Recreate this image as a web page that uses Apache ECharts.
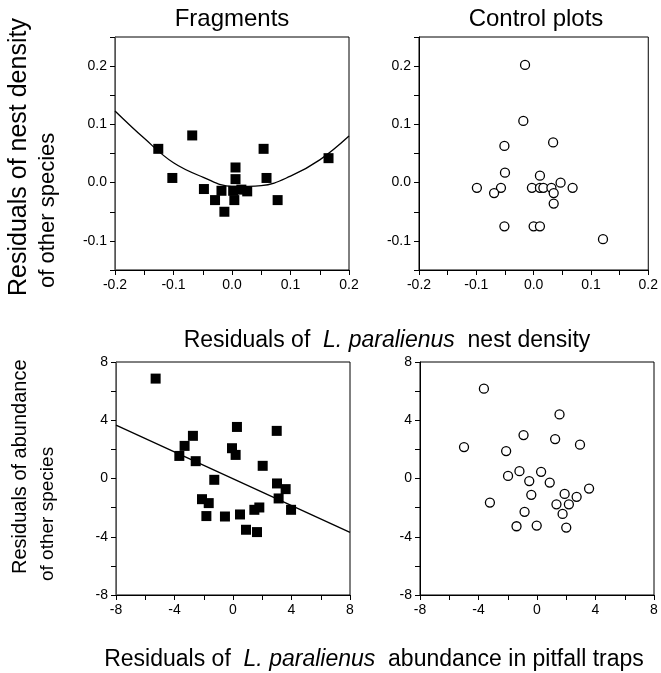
<!DOCTYPE html>
<html>
<head>
<meta charset="utf-8">
<script src="https://cdn.jsdelivr.net/npm/echarts@6/dist/echarts.min.js"></script>
<style>
  html, body { margin: 0; padding: 0; background: #fff; }
  #chart { width: 661px; height: 673px; }
</style>
</head>
<body>
<div id="chart"></div>
<script>
// nest density residuals, fragments (squares)
const fragNest = [
  [-0.126, 0.058], [-0.068, 0.081], [-0.102, 0.008], [-0.048, -0.011], [-0.029, -0.030],
  [-0.018, -0.014], [-0.013, -0.050], [0.002, -0.014], [0.004, -0.030], [0.006, 0.026],
  [0.006, 0.006], [0.016, -0.012], [0.026, -0.015], [0.054, 0.058], [0.059, 0.008],
  [0.078, -0.030], [0.165, 0.042]
]
// fitted curve
const fragNestFitX = [-0.2, -0.15, -0.1, -0.05, 0, 0.05, 0.1, 0.15, 0.2]
const fragNestFitY = [0.123, 0.076, 0.034, 0.0095, -0.0065, -0.005, 0.011, 0.039, 0.080]

// nest density residuals, control plots (circles)
const ctrlNest = [
  [-0.015, 0.202], [-0.018, 0.106], [-0.051, 0.063], [0.034, 0.069], [-0.050, 0.017],
  [0.011, 0.012], [-0.099, -0.009], [-0.057, -0.009], [-0.069, -0.018], [-0.003, -0.009],
  [0.011, -0.009], [0.017, -0.009], [0.031, -0.009], [0.035, -0.018], [0.047, 0.000],
  [0.068, -0.009], [0.035, -0.036], [-0.051, -0.075], [0.000, -0.075], [0.011, -0.075],
  [0.121, -0.097]
]

// abundance residuals, fragments (squares)
const fragAbund = [
  [-5.29, 6.86], [-3.67, 1.55], [-3.31, 2.24], [-2.74, 2.93], [-2.55, 1.19],
  [-1.28, -0.09], [-2.12, -1.42], [-1.66, -1.69], [-1.82, -2.58], [-0.55, -2.61],
  [-0.07, 2.08], [0.27, 3.54], [0.18, 1.62], [0.48, -2.47], [0.89, -3.52],
  [1.64, -3.68], [1.46, -2.15], [1.80, -1.99], [2.03, 0.87], [2.99, 3.27],
  [3.01, -0.34], [3.12, -1.37], [3.60, -0.73], [3.97, -2.15]
]
const fragAbundFitX = [-8, 8]
const fragAbundFitY = [3.66, -3.70]

// abundance residuals, control plots (circles)
const ctrlAbund = [
  [-3.63, 6.17], [1.54, 4.40], [-0.92, 2.98], [1.24, 2.71], [2.94, 2.32],
  [-4.99, 2.16], [-2.11, 1.88], [-1.20, 0.50], [0.28, 0.46], [-1.98, 0.18],
  [-0.53, -0.18], [0.87, -0.28], [3.56, -0.69], [1.89, -1.06], [-0.39, -1.12],
  [2.71, -1.26], [-3.22, -1.65], [1.33, -1.77], [2.18, -1.77], [-0.85, -2.29],
  [1.75, -2.43], [-1.40, -3.28], [-0.02, -3.23], [2.00, -3.37]
]

const FONT = 'Liberation Sans, Arial, sans-serif'

const chart = echarts.init(document.getElementById('chart'))

const zip = (xs, ys) => xs.map((x, i) => [x, ys[i]])

const smallLabel = v => {
  const k = Math.round(v * 20)
  return k % 2 === 0 ? (Math.round(v * 10) / 10).toFixed(1) : ''
}
const bigLabel = v => (Math.round(v) % 4 === 0 ? String(Math.round(v)) : '')

const axisBase = (gridIndex, min, max, interval, formatter, lineColor) => ({
  type: 'value',
  gridIndex,
  min,
  max,
  interval,
  axisLine: { show: true, onZero: false, lineStyle: { color: lineColor || '#000', width: 1 } },
  axisTick: { show: true, inside: false, length: 5, lineStyle: { color: '#000' } },
  axisLabel: { show: true, margin: 8, color: '#000', fontSize: 14, fontFamily: FONT, formatter },
  splitLine: { show: false }
})

const gridBox = (left, top) => ({
  left, top, width: 234, height: 233,
  show: true, borderColor: '#000', borderWidth: 1, backgroundColor: 'transparent'
})

const squares = (data, i) => ({
  type: 'scatter', xAxisIndex: i, yAxisIndex: i, data,
  symbol: 'rect', symbolSize: 10,
  itemStyle: { color: '#000', opacity: 1 }, z: 3
})
const circles = (data, i) => ({
  type: 'scatter', xAxisIndex: i, yAxisIndex: i, data,
  symbol: 'circle', symbolSize: 9,
  itemStyle: { color: '#fff', borderColor: '#000', borderWidth: 1.3, opacity: 1 }, z: 3
})

const titleText = (x, y, text, size) => ({
  type: 'text', x, y,
  style: { text, fill: '#000', font: `${size}px ${FONT}`, textAlign: 'center', textVerticalAlign: 'middle' }
})
const yTitle = (x, y, text, size) => ({
  type: 'text', x, y, rotation: Math.PI / 2,
  style: { text, fill: '#000', font: `${size}px ${FONT}`, textAlign: 'left', textVerticalAlign: 'middle' }
})
const xTitle = (x, y, before, after) => ({
  type: 'text', x, y,
  style: {
    text: `{a|${before}}{b|L. paralienus}{a|${after}}`,
    textAlign: 'center', textVerticalAlign: 'middle',
    rich: {
      a: { fontSize: 23, fontFamily: FONT, fill: '#000' },
      b: { fontSize: 23, fontFamily: FONT, fontStyle: 'italic', fill: '#000' }
    }
  }
})

const option = {
  animation: false,
  backgroundColor: '#fff',
  grid: [gridBox(115, 37), gridBox(419, 37), gridBox(116, 362), gridBox(420, 362)],
  xAxis: [
    axisBase(0, -0.2, 0.2, 0.05, smallLabel),
    axisBase(1, -0.2, 0.2, 0.05, smallLabel),
    axisBase(2, -8, 8, 2, bigLabel),
    axisBase(3, -8, 8, 2, bigLabel)
  ],
  yAxis: [
    axisBase(0, -0.15, 0.25, 0.05, smallLabel, '#555'),
    axisBase(1, -0.15, 0.25, 0.05, smallLabel),
    axisBase(2, -8, 8, 2, bigLabel, '#555'),
    axisBase(3, -8, 8, 2, bigLabel)
  ],
  series: [
    {
      type: 'line', xAxisIndex: 0, yAxisIndex: 0,
      data: zip(fragNestFitX, fragNestFitY),
      smooth: 0.4, showSymbol: false, silent: true,
      lineStyle: { color: '#000', width: 1.3 }, z: 2
    },
    squares(fragNest, 0),
    circles(ctrlNest, 1),
    {
      type: 'line', xAxisIndex: 2, yAxisIndex: 2,
      data: zip(fragAbundFitX, fragAbundFitY),
      showSymbol: false, silent: true,
      lineStyle: { color: '#000', width: 1.3 }, z: 2
    },
    squares(fragAbund, 2),
    circles(ctrlAbund, 3)
  ],
  graphic: [
    titleText(232, 19, 'Fragments', 24),
    titleText(536, 19, 'Control plots', 24),
    yTitle(19, 296, 'Residuals of nest density', 25),
    yTitle(48, 288, 'of other species', 22),
    yTitle(20, 574, 'Residuals of abundance', 20),
    yTitle(48, 581, 'of other species', 19),
    xTitle(387, 341, 'Residuals of  ', '  nest density'),
    xTitle(374, 660, 'Residuals of  ', '  abundance in pitfall traps')
  ]
}

chart.setOption(option)
</script>
</body>
</html>
